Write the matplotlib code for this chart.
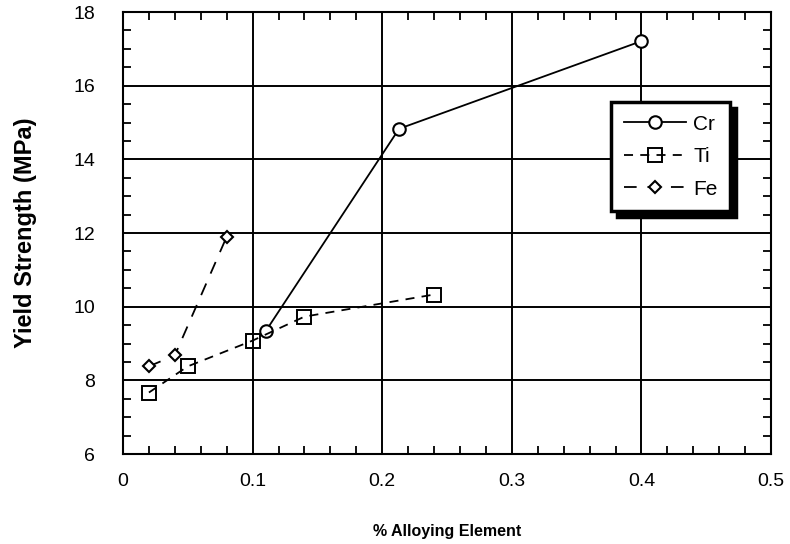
import matplotlib
matplotlib.use('Agg')

import matplotlib.pyplot as plt
from matplotlib.ticker import MultipleLocator

# values
cr_x = [0.11, 0.213, 0.4]
cr_y = [9.33, 14.83, 17.21]

ti_x = [0.02, 0.05, 0.10, 0.14, 0.24]
ti_y = [7.67, 8.38, 9.08, 9.73, 10.33]

fe_x = [0.02, 0.04, 0.08]
fe_y = [8.38, 8.68, 11.9]

x_ticks = [0, 0.1, 0.2, 0.3, 0.4, 0.5]
x_tick_labels = ['0', '0.1', '0.2', '0.3', '0.4', '0.5']

plt.rcParams['font.family'] = ['Liberation Sans', 'DejaVu Sans']

fig = plt.figure(figsize=(7.9, 5.44), dpi=100)
ax = fig.add_axes([0.1557, 0.1654, 0.8203, 0.8125])

ax.plot(cr_x, cr_y, color='black', lw=1.3, marker='o', ms=9, mfc='white',
        mec='black', mew=1.5, label='Cr', zorder=3)
ax.plot(ti_x, ti_y, color='black', lw=1.3, ls=(0, (5, 4)), marker='s', ms=10,
        mfc='none', mec='black', mew=1.4, label='Ti', zorder=3)
ax.plot(fe_x, fe_y, color='black', lw=1.3, ls=(0, (7, 6)), marker='D', ms=6,
        mfc='white', mec='black', mew=1.5, label='Fe', zorder=3)

ax.set_xlim(0, 0.5)
ax.set_ylim(6, 18)
ax.set_xticks(x_ticks)
ax.set_xticklabels(x_tick_labels)
ax.xaxis.set_minor_locator(MultipleLocator(0.02))
ax.yaxis.set_major_locator(MultipleLocator(2))
ax.yaxis.set_minor_locator(MultipleLocator(0.5))

ax.tick_params(which='both', direction='in', top=True, right=True,
               labelsize=14, color='black', width=1.3)
ax.tick_params(which='major', length=0)
ax.tick_params(axis='x', which='major', pad=14)
ax.tick_params(axis='y', which='major', pad=20)
ax.tick_params(which='minor', length=6)
ax.grid(True, which='major', color='black', lw=1.4)
for s in ax.spines.values():
    s.set_linewidth(1.5)

ax.set_xlabel('% Alloying Element', fontsize=11.5, fontweight='bold', labelpad=24)
ax.set_ylabel('Yield Strength (MPa)', fontsize=17, fontweight='bold', labelpad=26)

leg = ax.legend(loc='upper left', bbox_to_anchor=(611 / 790, 1 - 102 / 544),
                bbox_transform=fig.transFigure, fontsize=15, frameon=True,
                fancybox=False, handlelength=3.0, labelspacing=0.65,
                borderpad=0.6, handletextpad=0.35, borderaxespad=0,
                shadow={'ox': 4, 'oy': -4, 'shade': 1.0, 'alpha': 1})
leg.get_frame().set_edgecolor('black')
leg.get_frame().set_linewidth(2.5)
leg.get_frame().set_facecolor('white')

fig.savefig('out.png', dpi=100)
